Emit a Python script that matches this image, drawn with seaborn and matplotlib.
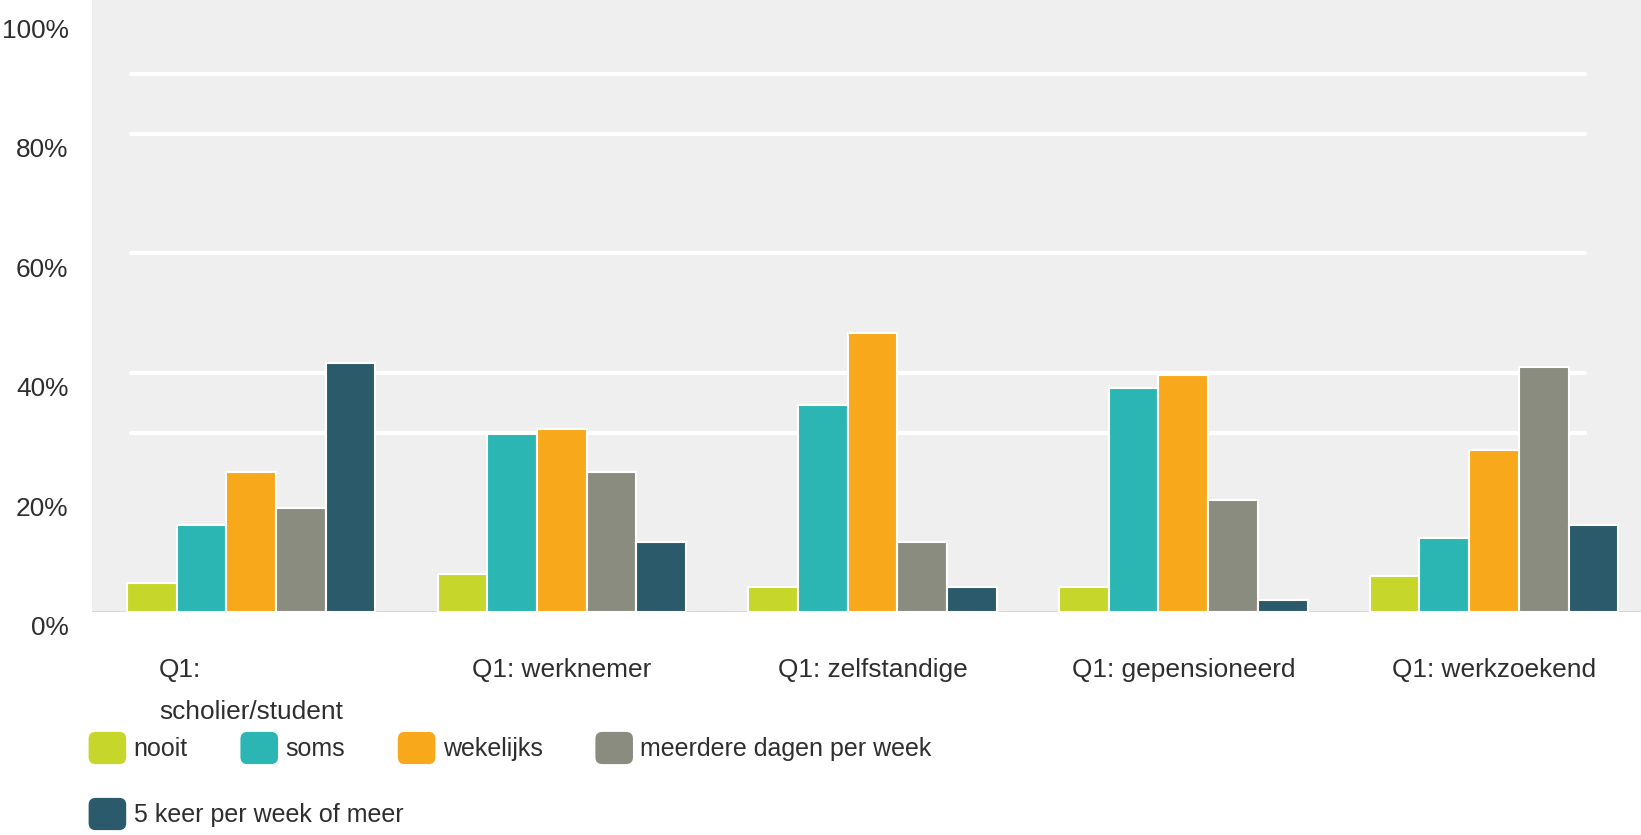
import numpy as np
import pandas as pd
import matplotlib
matplotlib.use("Agg")
import matplotlib.pyplot as plt
import matplotlib.transforms as mtransforms
from matplotlib import font_manager
from matplotlib.patches import FancyBboxPatch, Patch
from matplotlib.legend_handler import HandlerPatch
import seaborn as sns

groups = ["Q1:\nscholier/student", "Q1: werknemer", "Q1: zelfstandige",
          "Q1: gepensioneerd", "Q1: werkzoekend"]
answers = ["nooit", "soms", "wekelijks", "meerdere dagen per week",
           "5 keer per week of meer"]

nooit = [4.8, 6.3, 4.2, 4.2, 6.1]
soms = [14.5, 29.7, 34.7, 37.4, 12.4]
wekelijks = [23.5, 30.6, 46.6, 39.6, 27.1]
meerdere = [17.4, 23.5, 11.7, 18.7, 41.0]
vijf_keer = [41.7, 11.7, 4.2, 2.0, 14.5]

colors = ["#c6d62a", "#2bb5b3", "#f8a91b", "#8b8c80", "#2b5b6b"]
y_ticks = [0, 20, 40, 60, 80, 100]
y_labels = ["0%", "20%", "40%", "60%", "80%", "100%"]
grid_levels = [30, 40, 60, 80, 90]

sns.set_theme(style="white")

names = {f.name for f in font_manager.fontManager.ttflist}
if "Liberation Sans Narrow" in names:
    family, scale = "Liberation Sans Narrow", 1.0
else:
    family, scale = "Liberation Sans", 0.82
plt.rcParams["font.family"] = [family, "DejaVu Sans"]
text_color = "#2e2e2e"

df = pd.DataFrame({
    "group": groups * len(answers),
    "answer": np.repeat(answers, len(groups)),
    "pct": nooit + soms + wekelijks + meerdere + vijf_keer,
})

fig = plt.figure(figsize=(16.41, 8.35), dpi=100)
ax = fig.add_axes([92 / 1641, 1 - 612 / 835, 1549 / 1641, 612 / 835])
ax.set_facecolor("#efefef")

for level in grid_levels:
    ax.axhline(level, xmin=0.025, xmax=0.964, color="white", lw=3, zorder=1)
ax.axhline(0, color="#d6d6d6", lw=2, zorder=1)

sns.barplot(
    data=df, x="group", y="pct", hue="answer",
    order=groups, hue_order=answers, palette=colors, saturation=1,
    width=0.8, errorbar=None, edgecolor="white", linewidth=1.5,
    legend=False, ax=ax, zorder=2,
)

ax.set_xlim(-0.512, 4.473)
ax.set_ylim(0, 102.4)
ax.set_xlabel("")
ax.set_ylabel("")
ax.set_yticks(y_ticks)
ax.set_yticklabels(y_labels)
ax.tick_params(axis="x", length=0, pad=33, labelsize=23 * scale, labelcolor=text_color)
ax.tick_params(axis="y", length=0, pad=17, labelsize=23 * scale, labelcolor=text_color)
first = ax.get_xticklabels()[0]
first.set_multialignment("left")
first.set_linespacing(1.95)
for s in ax.spines.values():
    s.set_visible(False)

offset = mtransforms.ScaledTranslation(0, -10 / 72, fig.dpi_scale_trans)
for lab in ax.get_yticklabels():
    lab.set_transform(lab.get_transform() + offset)


def round_patch(legend, orig_handle, xdescent, ydescent, width, height, fontsize):
    return FancyBboxPatch((-xdescent, -ydescent), width, height,
                          boxstyle="round,pad=0,rounding_size=5")


handles = [Patch(facecolor=c, edgecolor="none") for c in colors]
leg_kw = dict(
    loc="center left", frameon=False, borderpad=0, borderaxespad=0,
    handlelength=1.5, handleheight=1.6, handletextpad=0.3, columnspacing=2.1,
    fontsize=22 * scale, labelcolor=text_color,
    handler_map={Patch: HandlerPatch(patch_func=round_patch)},
)
fig.legend(handles[:4], answers[:4], ncol=4, bbox_to_anchor=(0.054, 1 - 748 / 835), **leg_kw)
fig.legend(handles[4:], answers[4:], ncol=1, bbox_to_anchor=(0.054, 1 - 814 / 835), **leg_kw)

fig.savefig("out.png", dpi=100)
